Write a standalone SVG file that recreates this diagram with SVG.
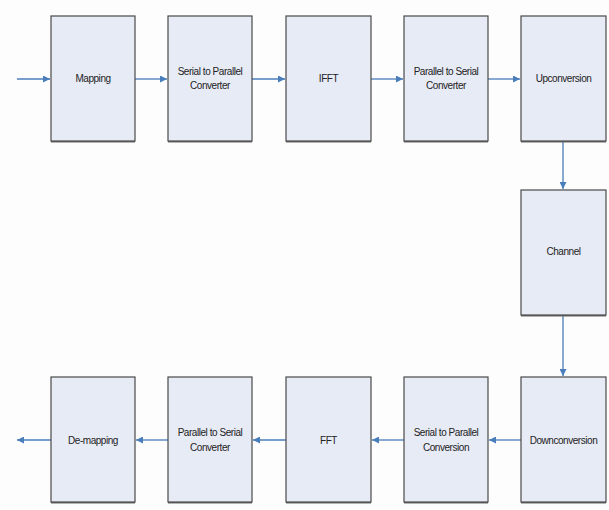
<svg xmlns="http://www.w3.org/2000/svg" width="609" height="510" viewBox="0 0 609 510">
<style>
.box{fill:#e7ebf6;stroke:#4a4a4a;stroke-width:1.2}
.sh{fill:#6a6a6a}
.t{font-family:"Liberation Sans",Arial,sans-serif;font-size:10px;letter-spacing:-0.45px;fill:#222;text-anchor:middle}
.c{stroke:#4a7ebb;stroke-width:1.3;fill:none;marker-end:url(#ah)}
</style>
<defs>
<marker id="ah" viewBox="0 0 10 10" refX="10" refY="5" markerWidth="7" markerHeight="7" markerUnits="userSpaceOnUse" orient="auto">
<path d="M0,0 L10,5 L0,10 z" fill="#4a7ebb"/>
</marker>
</defs>
<rect width="609" height="510" fill="#fdfdfd"/>
<g id="connectors">
<line class="c" x1="17" y1="79" x2="50" y2="79"/>
<line class="c" x1="135" y1="79" x2="167" y2="79"/>
<line class="c" x1="252" y1="79" x2="285" y2="79"/>
<line class="c" x1="371" y1="79" x2="403" y2="79"/>
<line class="c" x1="488" y1="79" x2="520" y2="79"/>
<line class="c" x1="563" y1="141" x2="563" y2="189"/>
<line class="c" x1="563" y1="315" x2="563" y2="376"/>
<line class="c" x1="521" y1="440" x2="489" y2="440"/>
<line class="c" x1="404" y1="440" x2="372" y2="440"/>
<line class="c" x1="286" y1="440" x2="253" y2="440"/>
<line class="c" x1="168" y1="440" x2="136" y2="440"/>
<line class="c" x1="51" y1="440" x2="17" y2="440"/>
</g>
<g id="mapping"><rect class="sh" x="51" y="17" width="84" height="125.5"/><rect class="box" x="51" y="16" width="84" height="125"/><text class="t" x="93" y="82">Mapping</text></g>
<g id="sp1"><rect class="sh" x="168" y="17" width="84" height="125.5"/><rect class="box" x="168" y="16" width="84" height="125"/><text class="t" x="210" y="75">Serial to Parallel</text><text class="t" x="210" y="89">Converter</text></g>
<g id="ifft"><rect class="sh" x="286" y="17" width="85" height="125.5"/><rect class="box" x="286" y="16" width="85" height="125"/><text class="t" x="328.5" y="82">IFFT</text></g>
<g id="ps1"><rect class="sh" x="404" y="17" width="84" height="125.5"/><rect class="box" x="404" y="16" width="84" height="125"/><text class="t" x="446" y="75">Parallel to Serial</text><text class="t" x="446" y="89">Converter</text></g>
<g id="up"><rect class="sh" x="521" y="17" width="85" height="125.5"/><rect class="box" x="521" y="16" width="85" height="125"/><text class="t" x="563.5" y="82">Upconversion</text></g>
<g id="channel"><rect class="sh" x="521" y="191" width="85" height="125.5"/><rect class="box" x="521" y="190" width="85" height="125"/><text class="t" x="563.5" y="255">Channel</text></g>
<g id="down"><rect class="sh" x="521" y="378" width="85" height="125.5"/><rect class="box" x="521" y="377" width="85" height="125"/><text class="t" x="563.5" y="444">Downconversion</text></g>
<g id="sp2"><rect class="sh" x="404" y="378" width="84" height="125.5"/><rect class="box" x="404" y="377" width="84" height="125"/><text class="t" x="446" y="436">Serial to Parallel</text><text class="t" x="446" y="451">Conversion</text></g>
<g id="fft"><rect class="sh" x="286" y="378" width="85" height="125.5"/><rect class="box" x="286" y="377" width="85" height="125"/><text class="t" x="328.5" y="444">FFT</text></g>
<g id="ps2"><rect class="sh" x="168" y="378" width="84" height="125.5"/><rect class="box" x="168" y="377" width="84" height="125"/><text class="t" x="210" y="436">Parallel to Serial</text><text class="t" x="210" y="451">Converter</text></g>
<g id="demap"><rect class="sh" x="51" y="378" width="84" height="125.5"/><rect class="box" x="51" y="377" width="84" height="125"/><text class="t" x="93" y="444">De-mapping</text></g>
</svg>
